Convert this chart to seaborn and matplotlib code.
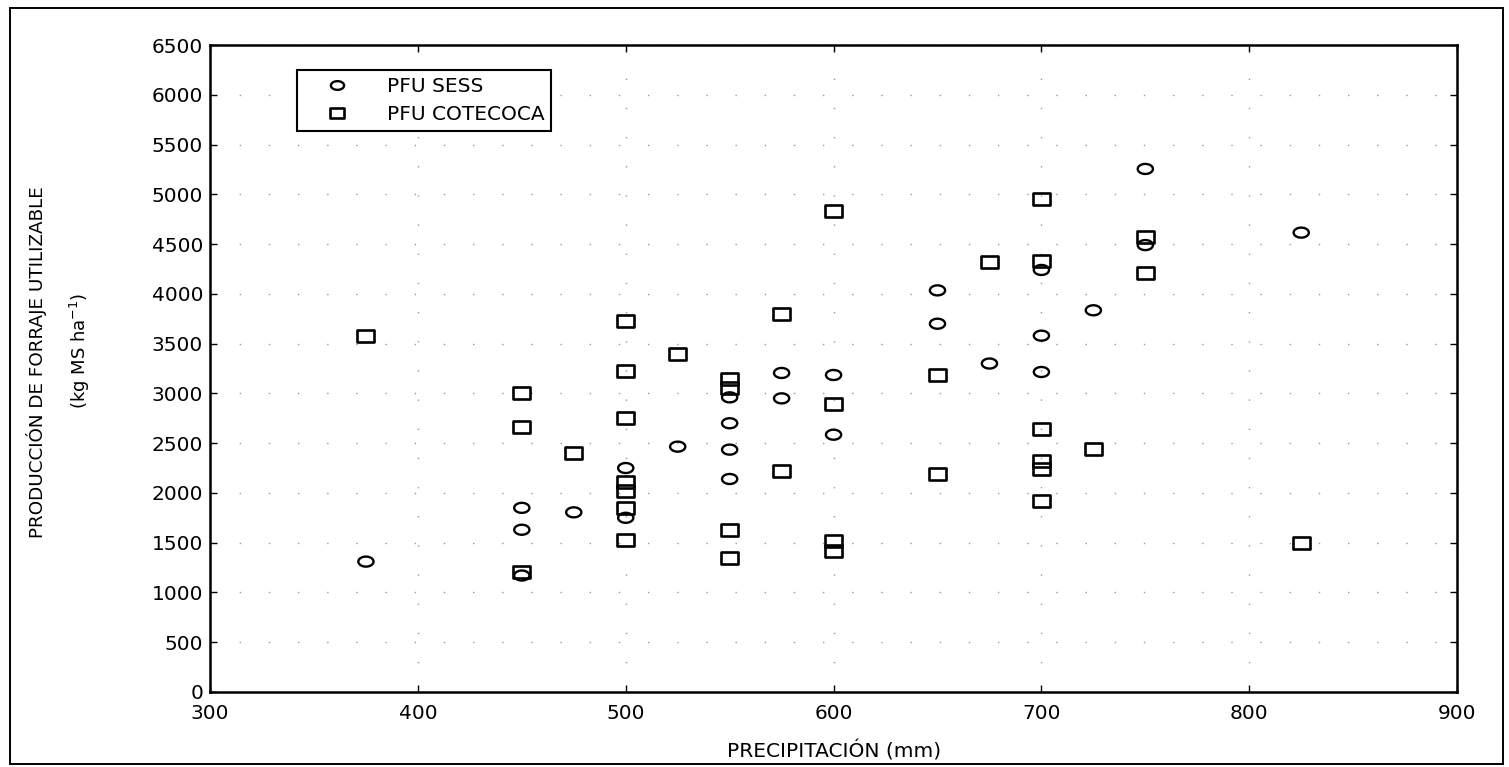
import numpy as np
import pandas as pd
import matplotlib
matplotlib.use("Agg")
import matplotlib.pyplot as plt
from matplotlib.path import Path
from matplotlib.patches import Rectangle
from matplotlib.lines import Line2D
import seaborn as sns

# ---- data ----
sess_x = [375, 450, 450, 450, 475, 500, 500, 525, 550, 550, 550, 550,
          575, 575, 600, 600, 650, 650, 675, 700, 700, 700, 725, 750, 750, 825]
sess_y = [1310, 1850, 1630, 1170, 1805, 2250, 1750, 2465, 2960, 2700, 2435, 2140,
          3205, 2950, 3185, 2585, 4035, 3700, 3300, 4240, 3580, 3215, 3835, 5255, 4490, 4615]

cot_x = [375, 450, 450, 450, 475, 500, 500, 500, 500, 500, 500, 500, 525,
         550, 550, 550, 550, 575, 575, 600, 600, 600, 600, 650, 650, 675,
         700, 700, 700, 700, 700, 700, 725, 750, 750, 825]
cot_y = [3580, 3005, 2665, 1205, 2405, 3730, 3225, 2750, 2110, 2020, 1845, 1530, 3400,
         3145, 3055, 1630, 1350, 3800, 2220, 4835, 2890, 1520, 1420, 3185, 2190, 4320,
         4950, 4330, 2645, 2320, 2240, 1915, 2445, 4575, 4210, 1500]

series_names = ["PFU SESS", "PFU COTECOCA"]
x_ticks = [300, 400, 500, 600, 700, 800, 900]
y_ticks = [0, 500, 1000, 1500, 2000, 2500, 3000, 3500, 4000, 4500, 5000, 5500, 6000, 6500]

df_sess = pd.DataFrame({"x": sess_x, "y": sess_y})
df_cot = pd.DataFrame({"x": cot_x, "y": cot_y})

# ---- marker shapes (wide ellipse / wide rectangle) ----
t = np.linspace(0, 2 * np.pi, 40)
ell_marker = Path(np.column_stack([np.cos(t), 0.66 * np.sin(t)]), closed=True)
rect_marker = Path([[-1, -0.7], [1, -0.7], [1, 0.7], [-1, 0.7], [-1, -0.7]], closed=True)

sns.set_theme(style="white")
plt.rcParams["font.family"] = ["DejaVu Sans"]
plt.rcParams["text.color"] = "black"
plt.rcParams["axes.labelcolor"] = "black"
plt.rcParams["xtick.color"] = "black"
plt.rcParams["ytick.color"] = "black"

fig = plt.figure(figsize=(15.09, 7.67), dpi=100)
ax = fig.add_axes([0.1392, 0.0978, 0.8264, 0.8435])

sns.scatterplot(data=df_sess, x="x", y="y", marker=ell_marker, s=120,
                facecolor="none", edgecolor="black", linewidth=1.7, ax=ax, zorder=3)
sns.scatterplot(data=df_cot, x="x", y="y", marker=rect_marker, s=150,
                facecolor="none", edgecolor="black", linewidth=1.9, ax=ax, zorder=3)

ax.set_xlim(300, 900)
ax.set_ylim(0, 6500)
ax.set_xticks(x_ticks)
ax.set_yticks(y_ticks)
ax.set_xticklabels([str(v) for v in x_ticks], fontsize=14.5)
ax.set_yticklabels([str(v) for v in y_ticks], fontsize=14.5)
ax.tick_params(direction="in", length=5, width=1, color="black",
               top=True, right=True, bottom=True, left=True)
ax.tick_params(axis="x", pad=9)
ax.tick_params(axis="y", pad=5)

ax.grid(True, color="#9a9a9a", linestyle=(0, (1, 20)), linewidth=1)
for sp in ax.spines.values():
    sp.set_color("black")
    sp.set_linewidth(1.8)

ax.set_xlabel("PRECIPITACIÓN (mm)", fontsize=14.5, labelpad=12)
ax.set_ylabel("")
fig.text(0.024, 0.528, "PRODUCCIÓN DE FORRAJE UTILIZABLE", rotation=90,
         ha="center", va="center", fontsize=13.2)
fig.text(0.053, 0.542, "(kg MS ha$^{-1}$)", rotation=90,
         ha="center", va="center", fontsize=13)

handles = [
    Line2D([], [], linestyle="none", marker=ell_marker, markersize=9.5,
           markerfacecolor="none", markeredgecolor="black", markeredgewidth=1.7),
    Line2D([], [], linestyle="none", marker=rect_marker, markersize=9.5,
           markerfacecolor="none", markeredgecolor="black", markeredgewidth=1.9),
]
leg = ax.legend(handles, series_names, loc="upper left",
                bbox_to_anchor=(0.0698, 0.961), fontsize=14.5,
                frameon=True, fancybox=False, edgecolor="black",
                borderpad=0.35, handletextpad=0.8, labelspacing=0.45,
                borderaxespad=0, handlelength=3.3)
leg.get_frame().set_linewidth(1.5)
leg.get_frame().set_facecolor("white")
leg.get_frame().set_alpha(1)

fig.patches.append(Rectangle((0.0066, 0.004), 0.9895, 0.986, transform=fig.transFigure,
                             fill=False, edgecolor="black", linewidth=1.4))

fig.savefig("out.png", dpi=100, facecolor="white")
